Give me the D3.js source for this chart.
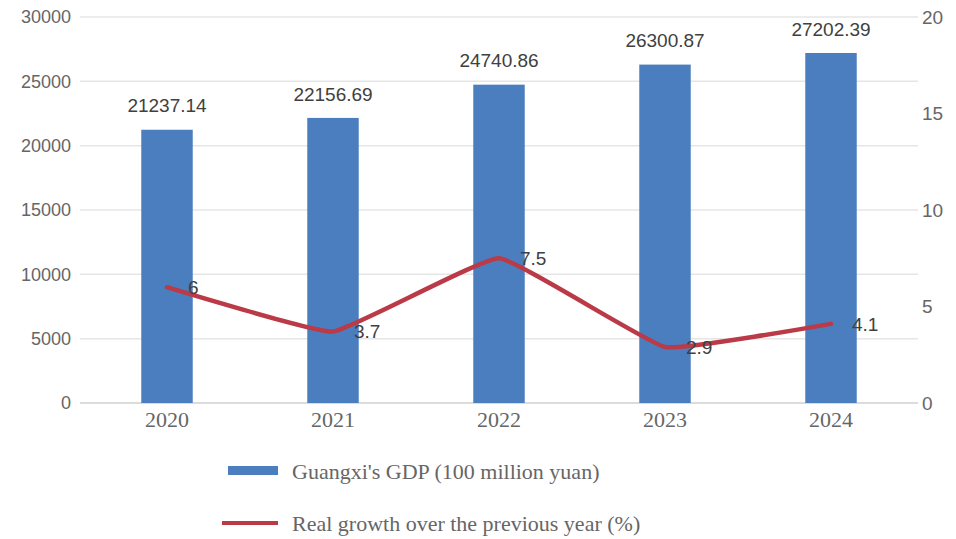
<!DOCTYPE html>
<html>
<head>
<meta charset="utf-8">
<script src="https://cdn.jsdelivr.net/npm/d3@7"></script>
<style>
  html, body { margin: 0; padding: 0; background: #ffffff; }
  svg { display: block; }
</style>
</head>
<body>
<svg id="chart" width="956" height="539"></svg>
<script>
// Guangxi GDP (bars, left axis) and real growth rate (line, right axis)
const years = ["2020", "2021", "2022", "2023", "2024"];
const gdp = [21237.14, 22156.69, 24740.86, 26300.87, 27202.39];
const growth = [6, 3.7, 7.5, 2.9, 4.1];
const gdpTicks = [0, 5000, 10000, 15000, 20000, 25000, 30000];
const growthTicks = [0, 5, 10, 15, 20];
const legendLabels = ["Guangxi's GDP (100 million yuan)", "Real growth over the previous year (%)"];

const barColor = "#4a7ebf";
const lineColor = "#bb3a47";
const gridColor = "#e6e6e6";
const textColor = "#666666";
const sans = "Liberation Sans, Arial, sans-serif";
const serif = "Liberation Serif, Times New Roman, serif";

const svg = d3.select("#chart");
const plotBottom = 403, plotTop = 17;

const x = d3.scaleBand().domain(years).range([84, 914]).paddingInner(0.69).paddingOuter(0.345);
const yL = d3.scaleLinear().domain([0, 30000]).range([plotBottom, plotTop]);
const yR = d3.scaleLinear().domain([0, 20]).range([plotBottom, plotTop]);

// gridlines
svg.append("g")
  .selectAll("line")
  .data(gdpTicks)
  .join("line")
  .attr("x1", 80).attr("x2", 918)
  .attr("y1", d => yL(d)).attr("y2", d => yL(d))
  .attr("stroke", d => d === 0 ? "#d0d0d0" : gridColor)
  .attr("stroke-width", 1.5);

// left axis
const leftAxis = d3.axisLeft(yL).tickValues(gdpTicks).tickSize(0).tickPadding(0).tickFormat(d3.format("d"));
const gl = svg.append("g").attr("transform", "translate(71,0)").call(leftAxis);
gl.select(".domain").remove();
gl.selectAll("text").attr("fill", textColor).attr("font-family", sans).attr("font-size", 18);

// right axis
const rightAxis = d3.axisRight(yR).tickValues(growthTicks).tickSize(0).tickPadding(0);
const gr = svg.append("g").attr("transform", "translate(922,0)").call(rightAxis);
gr.select(".domain").remove();
gr.selectAll("text").attr("fill", textColor).attr("font-family", sans).attr("font-size", 19);

// x axis labels
const bottomAxis = d3.axisBottom(x).tickSize(0).tickPadding(0);
const gb = svg.append("g").attr("transform", `translate(0,${plotBottom + 8})`).call(bottomAxis);
gb.select(".domain").remove();
gb.selectAll("text").attr("fill", textColor).attr("font-family", serif).attr("font-size", 22);

// bars
svg.append("g")
  .selectAll("rect")
  .data(years)
  .join("rect")
  .attr("x", d => x(d))
  .attr("width", x.bandwidth())
  .attr("y", (d, i) => yL(gdp[i]))
  .attr("height", (d, i) => yL(0) - yL(gdp[i]))
  .attr("fill", barColor);

// bar value labels
svg.append("g")
  .selectAll("text")
  .data(years)
  .join("text")
  .attr("x", d => x(d) + x.bandwidth() / 2)
  .attr("y", (d, i) => yL(gdp[i]) - 24)
  .attr("dy", "0.35em")
  .attr("text-anchor", "middle")
  .attr("fill", "#404040")
  .attr("font-family", sans)
  .attr("font-size", 19)
  .text((d, i) => d3.format(".2f")(gdp[i]));

// growth line
const line = d3.line()
  .x((d, i) => x(years[i]) + x.bandwidth() / 2)
  .y(d => yR(d))
  .curve(d3.curveCardinal.tension(0.7));

svg.append("path")
  .datum(growth)
  .attr("d", line)
  .attr("fill", "none")
  .attr("stroke", lineColor)
  .attr("stroke-width", 4.5)
  .attr("stroke-linejoin", "round")
  .attr("stroke-linecap", "round");

// growth value labels
svg.append("g")
  .selectAll("text")
  .data(growth)
  .join("text")
  .attr("x", (d, i) => x(years[i]) + x.bandwidth() / 2 + 21)
  .attr("y", d => yR(d))
  .attr("dy", "0.35em")
  .attr("fill", "#404040")
  .attr("font-family", sans)
  .attr("font-size", 19)
  .text(d => d);

// legend
const legend = svg.append("g");
legend.append("rect")
  .attr("x", 228).attr("y", 466).attr("width", 50).attr("height", 9)
  .attr("fill", barColor);
legend.append("line")
  .attr("x1", 222).attr("x2", 278).attr("y1", 523).attr("y2", 523)
  .attr("stroke", lineColor).attr("stroke-width", 4);
legend.selectAll("text")
  .data(legendLabels)
  .join("text")
  .attr("x", 292)
  .attr("y", (d, i) => 471 + i * 52)
  .attr("dy", "0.35em")
  .attr("fill", textColor)
  .attr("font-family", serif)
  .attr("font-size", 22)
  .text(d => d);
</script>
</body>
</html>
